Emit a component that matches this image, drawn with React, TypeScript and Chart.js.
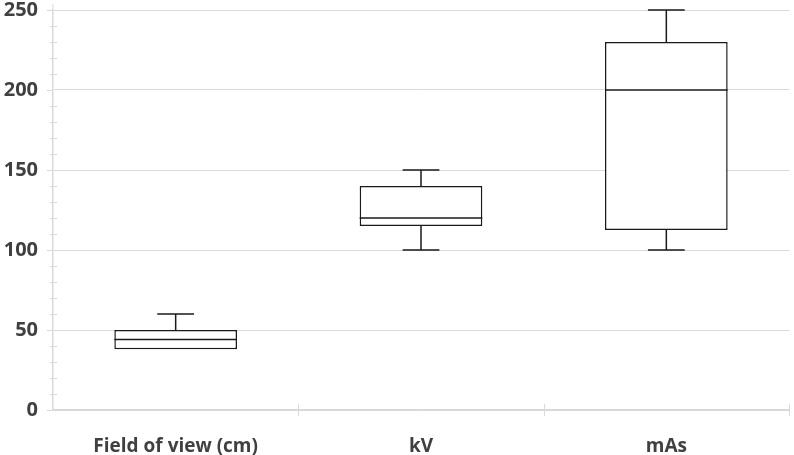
import React, { useEffect, useRef } from "react";
import { Chart, registerables } from "chart.js";

Chart.register(...registerables);

const categories = ["Field of view (cm)", "kV", "mAs"];
const minValues = [38, 100, 100];
const q1Values = [38, 115, 112.5];
const medianValues = [44, 120, 200];
const q3Values = [50, 140, 230];
const maxValues = [60, 150, 250];
const yMin = 0;
const yMax = 250;
const yMajorStep = 50;
const yMinorStep = 10;

const LINE = "#1a1a1a";
const GRID = "#d9d9d9";
const TEXT = "#404040";

const boxPlugin = {
  id: "boxWhiskers",
  afterDatasetsDraw(chart: any) {
    const { ctx, scales } = chart;
    const y = scales.y;
    const meta = chart.getDatasetMeta(0);
    ctx.save();
    ctx.strokeStyle = LINE;
    ctx.lineWidth = 1.5;
    meta.data.forEach((el: any, i: number) => {
      const cx = el.x;
      const w = el.width;
      const left = cx - w / 2;
      const right = cx + w / 2;
      const capHalf = w * 0.15;
      const pMed = y.getPixelForValue(medianValues[i]);
      const pQ1 = y.getPixelForValue(q1Values[i]);
      const pQ3 = y.getPixelForValue(q3Values[i]);
      const pMin = y.getPixelForValue(minValues[i]);
      const pMax = y.getPixelForValue(maxValues[i]);
      ctx.beginPath();
      ctx.moveTo(left, pMed);
      ctx.lineTo(right, pMed);
      if (maxValues[i] > q3Values[i]) {
        ctx.moveTo(cx, pQ3);
        ctx.lineTo(cx, pMax);
        ctx.moveTo(cx - capHalf, pMax);
        ctx.lineTo(cx + capHalf, pMax);
      }
      if (minValues[i] < q1Values[i]) {
        ctx.moveTo(cx, pQ1);
        ctx.lineTo(cx, pMin);
        ctx.moveTo(cx - capHalf, pMin);
        ctx.lineTo(cx + capHalf, pMin);
      }
      ctx.stroke();
    });
    ctx.restore();
  },
  afterDraw(chart: any) {
    const { ctx, scales, chartArea } = chart;
    const y = scales.y;
    const x = scales.x;
    ctx.save();
    ctx.strokeStyle = GRID;
    ctx.lineWidth = 1;
    ctx.beginPath();
    for (let v = yMin; v <= yMax; v += yMinorStep) {
      const py = Math.round(y.getPixelForValue(v)) + 0.5;
      if (v % yMajorStep === 0) {
        ctx.moveTo(chartArea.left - 6, py);
        ctx.lineTo(chartArea.left, py);
      } else {
        ctx.moveTo(chartArea.left - 3, py);
        ctx.lineTo(chartArea.left + 4, py);
      }
    }
    ctx.moveTo(chartArea.left, chartArea.top);
    ctx.lineTo(chartArea.left, chartArea.top - 6);
    const n = categories.length;
    for (let i = 1; i <= n; i++) {
      const px = Math.round(x.getPixelForValue(i - 0.5)) + 0.5;
      ctx.moveTo(px, chartArea.bottom - 6);
      ctx.lineTo(px, chartArea.bottom + 6);
    }
    ctx.stroke();
    ctx.restore();
  },
};

export default function App() {
  const ref = useRef<HTMLCanvasElement | null>(null);
  useEffect(() => {
    document.body.style.margin = "0";
    if (!ref.current) return;
    const chart = new Chart(ref.current, {
      type: "bar",
      data: {
        labels: categories,
        datasets: [
          {
            data: q1Values.map((q1, i) => [q1, q3Values[i]]) as any,
            backgroundColor: "#ffffff",
            borderColor: LINE,
            borderWidth: 1.5,
            borderSkipped: false,
            barPercentage: 0.5,
            categoryPercentage: 1,
          },
        ],
      },
      options: {
        responsive: false,
        animation: false,
        layout: { padding: { top: 10, right: 5, left: 0, bottom: 0 } },
        plugins: { legend: { display: false }, tooltip: { enabled: false } },
        scales: {
          x: {
            grid: { display: false },
            border: { color: GRID, width: 1.5 },
            ticks: {
              color: TEXT,
              font: { family: "Open Sans", weight: "bold", size: 19 },
              padding: 17,
            },
            afterFit: (s: any) => {
              s.height = 45;
            },
          },
          y: {
            min: yMin,
            max: yMax,
            grid: {
              color: (c: any) => (c.tick && c.tick.value % yMajorStep === 0 ? GRID : "rgba(0,0,0,0)"),
              drawTicks: false,
              lineWidth: 1,
            },
            border: { color: GRID, width: 1.5 },
            ticks: {
              stepSize: yMinorStep,
              autoSkip: false,
              color: TEXT,
              font: { family: "Open Sans", weight: "bold", size: 20, lineHeight: -1.1 },
              padding: 15,
              callback: (v: any) => (Number(v) % yMajorStep === 0 ? String(v) : ""),
            },
            afterFit: (s: any) => {
              s.width = 53;
              s.paddingTop = 0;
            },
          },
        },
      },
      plugins: [boxPlugin],
    });
    return () => chart.destroy();
  }, []);
  return (
    <div style={{ width: 794, height: 455 }}>
      <canvas ref={ref} width={794} height={455} />
    </div>
  );
}
